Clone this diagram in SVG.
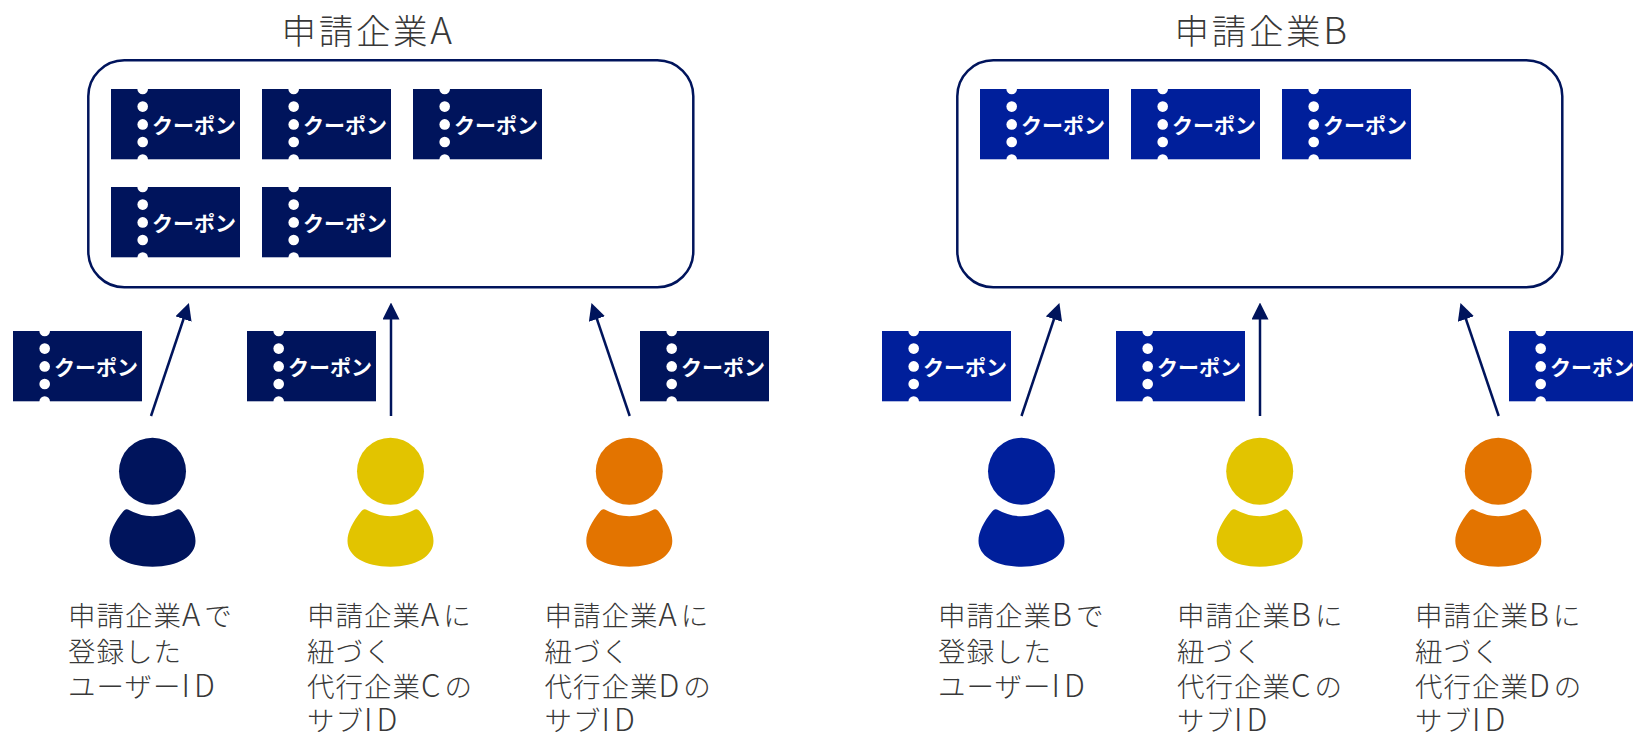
<svg xmlns="http://www.w3.org/2000/svg" width="1633" height="732" viewBox="0 0 1633 732">
<style>
text{font-family:"Noto Sans CJK JP","Noto Sans",sans-serif}
.title{font-size:34.5px;font-weight:300;fill:#383838;letter-spacing:2.7px}
.title tspan{font-size:37px}
.lbl{font-size:27.5px;font-weight:300;fill:#383838;letter-spacing:1px}
.lbl tspan{font-size:31px;letter-spacing:4px}
.tk{font-size:21px;font-weight:700;fill:#fff}
.box{fill:#fff;stroke:#00145c;stroke-width:2.5}
.navy{fill:#00145c}.blue{fill:#001f9b}.yellow{fill:#e2c400}.orange{fill:#e37400}
.arr{stroke:#00145c;stroke-width:2.5;fill:none;marker-end:url(#ah)}
</style>
<defs>
<marker id="ah" markerUnits="userSpaceOnUse" markerWidth="17" markerHeight="17" viewBox="0 0 17 17" refX="8.5" refY="8.5" orient="auto"><path d="M0 0L17 8.5L0 17Z" fill="#00145c"/></marker>
<g id="ticket"><rect x="0" y="0" width="129" height="70.3"/><g fill="#fff"><circle cx="31.7" cy="0" r="5.3"/><circle cx="31.7" cy="17.6" r="5.3"/><circle cx="31.7" cy="35.4" r="5.3"/><circle cx="31.7" cy="53" r="5.3"/><circle cx="31.7" cy="70.6" r="5.3"/></g></g>
<g id="person"><circle cx="0" cy="471.3" r="33.5"/><path d="M-29 511Q-27 508.5-24.5 509.5Q0 523 24.5 509.5Q27 508.5 29 511C38 522 43 532 43 541C43 556 26 566.7 0 566.7C-26 566.7-43 556-43 541C-43 532-38 522-29 511Z"/></g>
</defs>
<g id="connectors">
<line class="arr" x1="151" y1="416" x2="186.2" y2="311"/>
<line class="arr" x1="391" y1="416" x2="391" y2="311"/>
<line class="arr" x1="629.7" y1="416" x2="594.2" y2="311"/>
<line class="arr" x1="1021.5" y1="416" x2="1056.7" y2="311"/>
<line class="arr" x1="1260" y1="416" x2="1260" y2="311"/>
<line class="arr" x1="1498.7" y1="416" x2="1463.2" y2="311"/>
</g>
<g id="companyA"><rect class="box" x="88.3" y="60.3" width="605" height="227" rx="36"/><text class="title" x="281.5" y="44">申請企業<tspan>A</tspan></text></g>
<g id="companyB"><rect class="box" x="957.3" y="60.3" width="605" height="227" rx="36"/><text class="title" x="1174.5" y="44">申請企業<tspan>B</tspan></text></g>
<g id="a-coupon-1" class="navy"><use href="#ticket" x="111" y="89"/><text class="tk" x="152" y="132.5">クーポン</text></g>
<g id="a-coupon-2" class="navy"><use href="#ticket" x="262" y="89"/><text class="tk" x="303" y="132.5">クーポン</text></g>
<g id="a-coupon-3" class="navy"><use href="#ticket" x="413" y="89"/><text class="tk" x="454" y="132.5">クーポン</text></g>
<g id="a-coupon-4" class="navy"><use href="#ticket" x="111" y="187"/><text class="tk" x="152" y="230.5">クーポン</text></g>
<g id="a-coupon-5" class="navy"><use href="#ticket" x="262" y="187"/><text class="tk" x="303" y="230.5">クーポン</text></g>
<g id="a-coupon-u1" class="navy"><use href="#ticket" x="13" y="331"/><text class="tk" x="54" y="374.5">クーポン</text></g>
<g id="a-coupon-u2" class="navy"><use href="#ticket" x="247" y="331"/><text class="tk" x="288" y="374.5">クーポン</text></g>
<g id="a-coupon-u3" class="navy"><use href="#ticket" x="640" y="331"/><text class="tk" x="681" y="374.5">クーポン</text></g>
<g id="b-coupon-1" class="blue"><use href="#ticket" x="980" y="89"/><text class="tk" x="1021" y="132.5">クーポン</text></g>
<g id="b-coupon-2" class="blue"><use href="#ticket" x="1131" y="89"/><text class="tk" x="1172" y="132.5">クーポン</text></g>
<g id="b-coupon-3" class="blue"><use href="#ticket" x="1282" y="89"/><text class="tk" x="1323" y="132.5">クーポン</text></g>
<g id="b-coupon-u1" class="blue"><use href="#ticket" x="882" y="331"/><text class="tk" x="923" y="374.5">クーポン</text></g>
<g id="b-coupon-u2" class="blue"><use href="#ticket" x="1116" y="331"/><text class="tk" x="1157" y="374.5">クーポン</text></g>
<g id="b-coupon-u3" class="blue"><use href="#ticket" x="1509" y="331"/><text class="tk" x="1550" y="374.5">クーポン</text></g>
<g id="a-user-1" class="navy"><use href="#person" x="152.5"/><text class="lbl" x="68" y="626">申請企業<tspan>A</tspan>で</text><text class="lbl" x="68" y="662">登録した</text><text class="lbl" x="68" y="697">ユーザー<tspan>ID</tspan></text></g>
<g id="a-user-2" class="yellow"><use href="#person" x="390.5"/><text class="lbl" x="307" y="626">申請企業<tspan>A</tspan>に</text><text class="lbl" x="307" y="662">紐づく</text><text class="lbl" x="307" y="697">代行企業<tspan>C</tspan>の</text><text class="lbl" x="307" y="731">サブ<tspan>ID</tspan></text></g>
<g id="a-user-3" class="orange"><use href="#person" x="629.3"/><text class="lbl" x="544.5" y="626">申請企業<tspan>A</tspan>に</text><text class="lbl" x="544.5" y="662">紐づく</text><text class="lbl" x="544.5" y="697">代行企業<tspan>D</tspan>の</text><text class="lbl" x="544.5" y="731">サブ<tspan>ID</tspan></text></g>
<g id="b-user-1" class="blue"><use href="#person" x="1021.5"/><text class="lbl" x="938" y="626">申請企業<tspan>B</tspan>で</text><text class="lbl" x="938" y="662">登録した</text><text class="lbl" x="938" y="697">ユーザー<tspan>ID</tspan></text></g>
<g id="b-user-2" class="yellow"><use href="#person" x="1259.7"/><text class="lbl" x="1177" y="626">申請企業<tspan>B</tspan>に</text><text class="lbl" x="1177" y="662">紐づく</text><text class="lbl" x="1177" y="697">代行企業<tspan>C</tspan>の</text><text class="lbl" x="1177" y="731">サブ<tspan>ID</tspan></text></g>
<g id="b-user-3" class="orange"><use href="#person" x="1498.3"/><text class="lbl" x="1415" y="626">申請企業<tspan>B</tspan>に</text><text class="lbl" x="1415" y="662">紐づく</text><text class="lbl" x="1415" y="697">代行企業<tspan>D</tspan>の</text><text class="lbl" x="1415" y="731">サブ<tspan>ID</tspan></text></g>
</svg>
